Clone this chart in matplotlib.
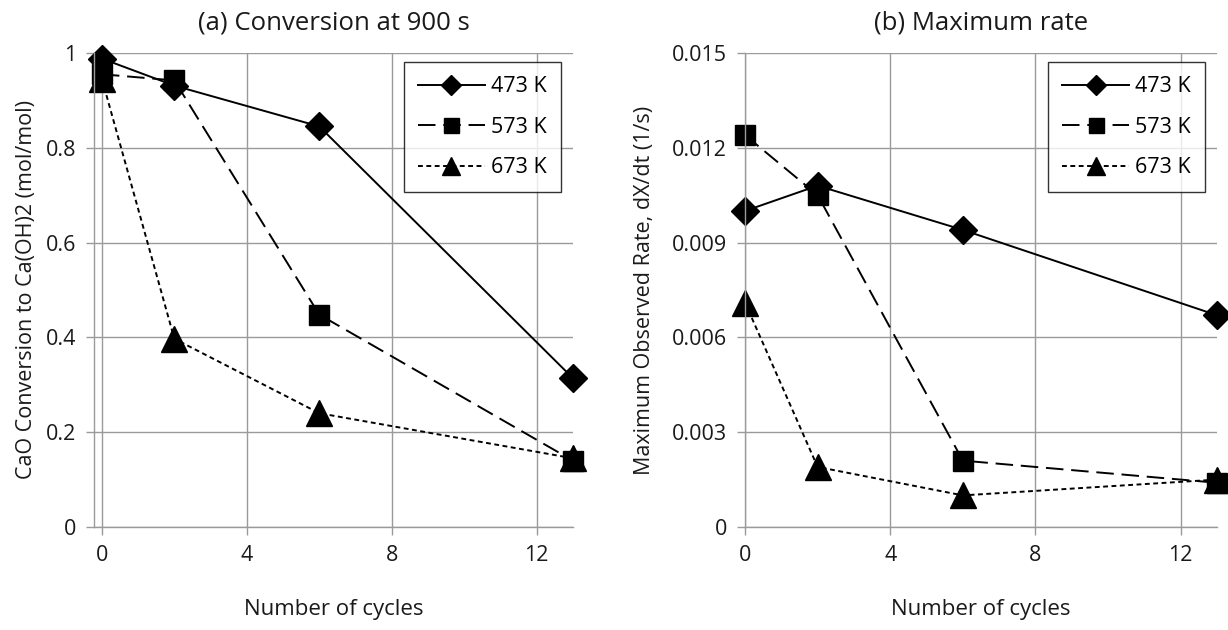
import matplotlib
matplotlib.use('Agg')
import matplotlib.pyplot as plt
from matplotlib.ticker import FixedLocator, FuncFormatter

plt.rcParams['font.family'] = ['Open Sans', 'DejaVu Sans']

cycles = [0, 2, 6, 13]
labels = ['473 K', '573 K', '673 K']

conv_473 = [0.988, 0.931, 0.845, 0.314]
conv_573 = [0.955, 0.942, 0.448, 0.140]
conv_673 = [0.945, 0.397, 0.240, 0.145]

rate_473 = [0.0100, 0.0108, 0.0094, 0.0067]
rate_573 = [0.0124, 0.0105, 0.0021, 0.0014]
rate_673 = [0.0071, 0.0019, 0.0010, 0.0015]

styles = [
    dict(marker='D', ms=14.5, ls='-'),
    dict(marker='s', ms=15, ls=(0, (9, 4))),
    dict(marker='^', ms=18.5, ls=(0, (2.5, 1.8))),
]

GRID = '#9a9a9a'
TXT = '#1a1a1a'

fig = plt.figure(figsize=(12.28, 6.3), dpi=100)
ax1 = fig.add_axes([0.0765, 0.1635, 0.39, 0.7525])
ax2 = fig.add_axes([0.6067, 0.1635, 0.3843, 0.7525])


def style_axes(ax, yticks, fmt, xmin):
    ax.set_xlim(xmin, 13)
    ax.set_ylim(0, yticks[-1])
    ax.xaxis.set_major_locator(FixedLocator([0, 4, 8, 12]))
    ax.yaxis.set_major_locator(FixedLocator(yticks))
    ax.yaxis.set_major_formatter(FuncFormatter(fmt))
    ax.grid(True, color=GRID, lw=1)
    ax.set_axisbelow(True)
    for s in ['top', 'right']:
        ax.spines[s].set_visible(False)
    for s in ['left', 'bottom']:
        ax.spines[s].set_color(GRID)
        ax.spines[s].set_linewidth(1)
    ax.tick_params(colors=GRID, labelcolor=TXT, length=6, width=1,
                   labelsize=15.5, pad=7)
    ax.set_xlabel('Number of cycles', fontsize=16, color=TXT, labelpad=24)


def plot_series(ax, data):
    for y, lab, st in zip(data, labels, styles):
        ax.plot(cycles, y, color='black', lw=1.4, label=lab, clip_on=False,
                mfc='black', mec='black', **st)
    leg = ax.legend(loc='upper right', fontsize=15.5, frameon=True, fancybox=False,
                    edgecolor='black', markerscale=0.72, handlelength=3.1,
                    labelspacing=0.9, borderpad=0.65, handletextpad=0.3,
                    borderaxespad=0, bbox_to_anchor=(0.975, 0.98))
    leg.get_frame().set_linewidth(1.0)


style_axes(ax1, [0, 0.2, 0.4, 0.6, 0.8, 1.0],
           lambda v, p: '0' if v == 0 else ('1' if v == 1 else f'{v:.1f}'), -0.22)
plot_series(ax1, [conv_473, conv_573, conv_673])
ax1.set_ylabel('CaO Conversion to Ca(OH)2 (mol/mol)', fontsize=15.5, color=TXT,
               labelpad=6)
ax1.set_title('(a) Conversion at 900 s', fontsize=18.5, pad=17, color=TXT)

style_axes(ax2, [0, 0.003, 0.006, 0.009, 0.012, 0.015],
           lambda v, p: '0' if v == 0 else f'{v:.3f}', 0)
plot_series(ax2, [rate_473, rate_573, rate_673])
ax2.set_ylabel('Maximum Observed Rate, dX/dt (1/s)', fontsize=15.5, color=TXT,
               labelpad=12)
ax2.set_title('(b) Maximum rate', fontsize=18.5, pad=17, color=TXT)

fig.savefig('out.png', dpi=100)
